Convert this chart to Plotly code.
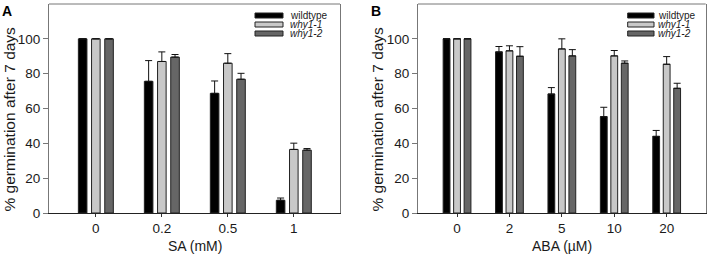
import plotly.graph_objects as go

# ---------------- data ----------------
series_names = ["wildtype", "why1-1", "why1-2"]
series_labels = ["wildtype", "<i>why1-1</i>", "<i>why1-2</i>"]
series_colors = ["#000000", "#c8c8c8", "#666666"]

cats_A = ["0", "0.2", "0.5", "1"]
wt_A = [100, 75.6, 68.7, 7.3]
wt_A_err = [None, 11.9, 7.1, 1.3]
why11_A = [100, 87.0, 86.0, 36.5]
why11_A_err = [None, 5.5, 5.5, 3.6]
why12_A = [100, 89.5, 76.8, 36.1]
why12_A_err = [None, 1.5, 3.4, 0.9]

cats_B = ["0", "2", "5", "10", "20"]
wt_B = [100, 92.5, 68.3, 55.3, 44.0]
wt_B_err = [None, 3.1, 3.7, 5.4, 3.4]
why11_B = [100, 93.1, 94.2, 90.2, 85.4]
why11_B_err = [None, 2.9, 5.8, 3.1, 4.4]
why12_B = [100, 90.0, 90.2, 86.0, 71.6]
why12_B_err = [None, 5.5, 3.6, 1.3, 2.9]

y_ticks = [0, 20, 40, 60, 80, 100]
y_title = "% germination after 7 days"
x_title_A = "SA (mM)"
x_title_B = "ABA (µM)"

# ---------------- geometry ----------------
W, H = 709, 258
TOP, BOT = 4, 213  # pixel rows of plot top / bottom
FONT = "Liberation Sans, Arial, sans-serif"
TXT = "#1a1a1a"


def px_x(x):
    return x / W


def px_y(y):
    return (BOT - y) / (BOT - TOP)


fig = go.Figure()

BAR_W = 0.13
STEP = 0.2

panels = [
    dict(xa="x", ya="y", cats=cats_A, vals=[wt_A, why11_A, why12_A],
         errs=[wt_A_err, why11_A_err, why12_A_err], left=49, right=340,
         rng=[-0.71, 3.70], xtitle=x_title_A, label="A", label_x=7,
         ytitle_x=8.5, leg_sw=(255, 283), leg_tx=289),
    dict(xa="x2", ya="y2", cats=cats_B, vals=[wt_B, why11_B, why12_B],
         errs=[wt_B_err, why11_B_err, why12_B_err], left=418, right=705.7,
         rng=[-0.745, 4.745], xtitle=x_title_B, label="B", label_x=376,
         ytitle_x=376.5, leg_sw=(627.7, 654), leg_tx=657.3),
]

annotations = []
shapes = []
for p in panels:
    for i, name in enumerate(series_names):
        fig.add_trace(go.Bar(
            x=p["cats"], y=p["vals"][i], name=name,
            xaxis=p["xa"], yaxis=p["ya"],
            width=BAR_W, offset=(i - 1) * STEP - BAR_W / 2,
            marker=dict(color=series_colors[i], line=dict(color="#222222", width=1)),
            error_y=dict(type="data", symmetric=False, array=p["errs"][i],
                         arrayminus=[0] * len(p["cats"]), color="#111111",
                         thickness=1, width=3.5),
            showlegend=False,
        ))
    # custom legend
    rows = [15.5, 24.5, 33.5]
    for i, lab in enumerate(series_labels):
        shapes.append(dict(type="rect", xref="paper", yref="paper",
                           x0=px_x(p["leg_sw"][0]), x1=px_x(p["leg_sw"][1]),
                           y0=px_y(rows[i] + 2.5), y1=px_y(rows[i] - 2.5),
                           fillcolor=series_colors[i],
                           line=dict(color="#222222", width=1)))
        annotations.append(dict(xref="paper", yref="paper",
                                x=px_x(p["leg_tx"]), y=px_y(rows[i]),
                                xanchor="left", yanchor="middle", showarrow=False,
                                borderpad=0,
                                text=lab, font=dict(family=FONT, size=10, color=TXT)))
    # top frame line
    shapes.append(dict(type="line", xref="paper", yref="paper",
                       x0=px_x(p["left"]), x1=px_x(p["right"]), y0=1, y1=1,
                       line=dict(color="#777777", width=1)))
    # panel label
    annotations.append(dict(xref="paper", yref="paper", x=px_x(p["label_x"]), y=px_y(11),
                            xanchor="center", yanchor="middle", showarrow=False,
                            text="<b>%s</b>" % p["label"],
                            font=dict(family=FONT, size=14, color="#000")))
    # axis titles
    annotations.append(dict(xref="paper", yref="paper",
                            x=px_x((p["left"] + p["right"]) / 2), y=px_y(246),
                            xanchor="center", yanchor="middle", showarrow=False,
                            text=p["xtitle"], font=dict(family=FONT, size=14, color=TXT)))
    annotations.append(dict(xref="paper", yref="paper",
                            x=px_x(p["ytitle_x"]), y=px_y(119), textangle=-90,
                            xanchor="center", yanchor="middle", showarrow=False,
                            text=y_title, font=dict(family=FONT, size=15.5, color=TXT)))

xaxis_common = dict(type="category", showgrid=False, zeroline=False,
                    showline=True, linecolor="#222222", linewidth=1, mirror=False,
                    ticks="outside", ticklen=3, tickcolor="#333333",
                    tickfont=dict(family=FONT, size=13.5, color=TXT),
                    automargin=False, fixedrange=True)
yaxis_common = dict(range=[0, 120], tickvals=y_ticks, showgrid=False, zeroline=False,
                    showline=True, linecolor="#777777", linewidth=1, mirror=True,
                    ticks="outside", ticklen=5, tickcolor="#777777",
                    tickfont=dict(family=FONT, size=13.5, color=TXT),
                    automargin=False, fixedrange=True)

fig.update_layout(
    width=W, height=H,
    margin=dict(l=0, r=0, t=TOP, b=H - BOT, pad=0),
    paper_bgcolor="white", plot_bgcolor="white",
    barmode="overlay",
    showlegend=False,
    xaxis=dict(xaxis_common, domain=[px_x(49), px_x(340)], range=panels[0]["rng"],
               categoryorder="array", categoryarray=cats_A, anchor="y"),
    yaxis=dict(yaxis_common, domain=[0, 1], anchor="x"),
    xaxis2=dict(xaxis_common, domain=[px_x(418), px_x(705.7)], range=panels[1]["rng"],
                categoryorder="array", categoryarray=cats_B, anchor="y2"),
    yaxis2=dict(yaxis_common, domain=[0, 1], anchor="x2"),
    annotations=annotations,
    shapes=shapes,
    font=dict(family=FONT, color=TXT),
)

fig.write_html(
    "out.html",
    config={"displayModeBar": False, "staticPlot": True},
    post_script="document.body.style.margin='0';document.body.style.overflow='hidden';",
)
